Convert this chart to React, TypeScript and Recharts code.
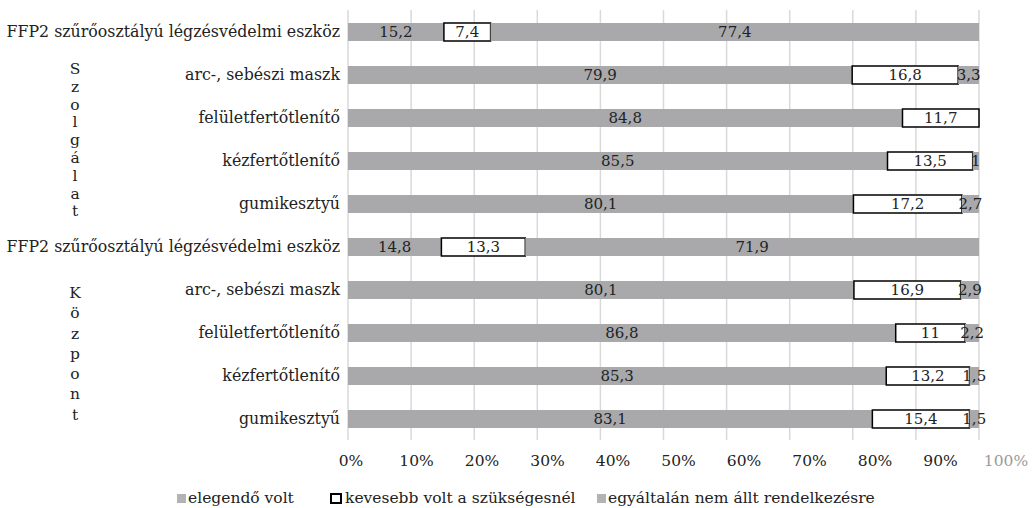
import React from 'react'
import { BarChart, Bar, XAxis, YAxis, CartesianGrid, LabelList } from 'recharts'

const categories = [
  'FFP2 szűrőosztályú légzésvédelmi eszköz',
  'arc-, sebészi maszk',
  'felületfertőtlenítő',
  'kézfertőtlenítő',
  'gumikesztyű',
  'FFP2 szűrőosztályú légzésvédelmi eszköz',
  'arc-, sebészi maszk',
  'felületfertőtlenítő',
  'kézfertőtlenítő',
  'gumikesztyű',
]
const elegendo = [15.2, 79.9, 84.8, 85.5, 80.1, 14.8, 80.1, 86.8, 85.3, 83.1]
const kevesebb = [7.4, 16.8, 11.7, 13.5, 17.2, 13.3, 16.9, 11, 13.2, 15.4]
const nemAllt = [77.4, 3.3, 0, 1, 2.7, 71.9, 2.9, 2.2, 1.5, 1.5]
const ticks = [0, 0.1, 0.2, 0.3, 0.4, 0.5, 0.6, 0.7, 0.8, 0.9, 1]
const seriesNames = ['elegendő volt', 'kevesebb volt a szükségesnél', 'egyáltalán nem állt rendelkezésre']
const groups = ['Szolgálat', 'Központ']

const data = categories.map((c, i) => ({ id: i, a: elegendo[i], b: kevesebb[i], c: nemAllt[i] }))

const FONT = 'DejaVu Serif'
const GRAY = '#a9a9ab'
const TEXT = '#222'
const fmt = (v: number) => (v ? String(v).replace('.', ',') : '')

// tick labels in the original sit a bit wider apart than the gridlines
const XTick = (props: any) => {
  const { x, payload } = props
  const last = payload.value === 1
  return (
    <text x={x + 3 + payload.value * 24} y={440} dy={26} textAnchor="middle" fontFamily={FONT} fontSize={15.5}
      fill={last ? '#9a9a9a' : TEXT}>
      {Math.round(payload.value * 100) + '%'}
    </text>
  )
}

const legendX = [177, 330, 597]

const LegendBox = () => (
  <>
    {seriesNames.map((n, i) => (
      <div key={n} style={{ position: 'absolute', left: legendX[i], top: 488, display: 'flex', alignItems: 'center',
        fontFamily: FONT, fontSize: 15.5, color: TEXT, whiteSpace: 'nowrap', lineHeight: '20px' }}>
        <span style={{ width: i === 1 ? 12 : 9, height: i === 1 ? 11 : 9, boxSizing: 'border-box', marginRight: i === 1 ? 3 : 2,
          background: i === 1 ? '#fff' : '#b3b3b5', border: i === 1 ? '2px solid #000' : 'none' }} />
        <span>{n}</span>
      </div>
    ))}
  </>
)

const Letters = ({ text, top, step }: { text: string; top: number; step: number }) => (
  <div style={{ position: 'absolute', left: 65, top, width: 20, fontFamily: FONT, fontSize: 15.5, color: TEXT, textAlign: 'center' }}>
    {text.split('').map((ch, i) => (
      <div key={i} style={{ height: step, lineHeight: step + 'px' }}>{ch}</div>
    ))}
  </div>
)

export default function App() {
  return (
    <div style={{ position: 'absolute', left: 0, top: 0, width: 1036, height: 508, background: '#fff' }}>
      <BarChart width={1036} height={508} data={data} layout="vertical" stackOffset="expand" barSize={18}
        margin={{ top: 10, right: 57, left: 0, bottom: 38 }}>
        <CartesianGrid horizontal={false} stroke="#d9d9d9" strokeWidth={1.5} />
        <XAxis type="number" domain={[0, 1]} ticks={ticks} axisLine={false} tickLine={false} tickSize={0}
          height={30} tick={<XTick />} interval={0} />
        <YAxis type="category" dataKey="id" width={348} axisLine={false} tickLine={false} tickSize={0} tickMargin={8}
          interval={0} tickFormatter={(i: number) => categories[i]}
          tick={{ fontFamily: FONT, fontSize: 15.8, fill: TEXT }} />
        <Bar dataKey="a" stackId="s" fill={GRAY} isAnimationActive={false} name={seriesNames[0]}>
          <LabelList dataKey="a" position="center" formatter={fmt as never} fontFamily={FONT} fontSize={15} fill={TEXT} />
        </Bar>
        <Bar dataKey="b" stackId="s" fill="#fff" stroke="#000" strokeWidth={1.5} isAnimationActive={false} name={seriesNames[1]}>
          <LabelList dataKey="b" position="center" formatter={fmt as never} fontFamily={FONT} fontSize={15} fill={TEXT} stroke="none" />
        </Bar>
        <Bar dataKey="c" stackId="s" fill={GRAY} isAnimationActive={false} name={seriesNames[2]}>
          <LabelList dataKey="c" position="center" formatter={fmt as never} fontFamily={FONT} fontSize={15} fill={TEXT} />
        </Bar>
      </BarChart>
      <LegendBox />
      <Letters text={groups[0]} top={61} step={17.8} />
      <Letters text={groups[1]} top={283} step={20.3} />
    </div>
  )
}
